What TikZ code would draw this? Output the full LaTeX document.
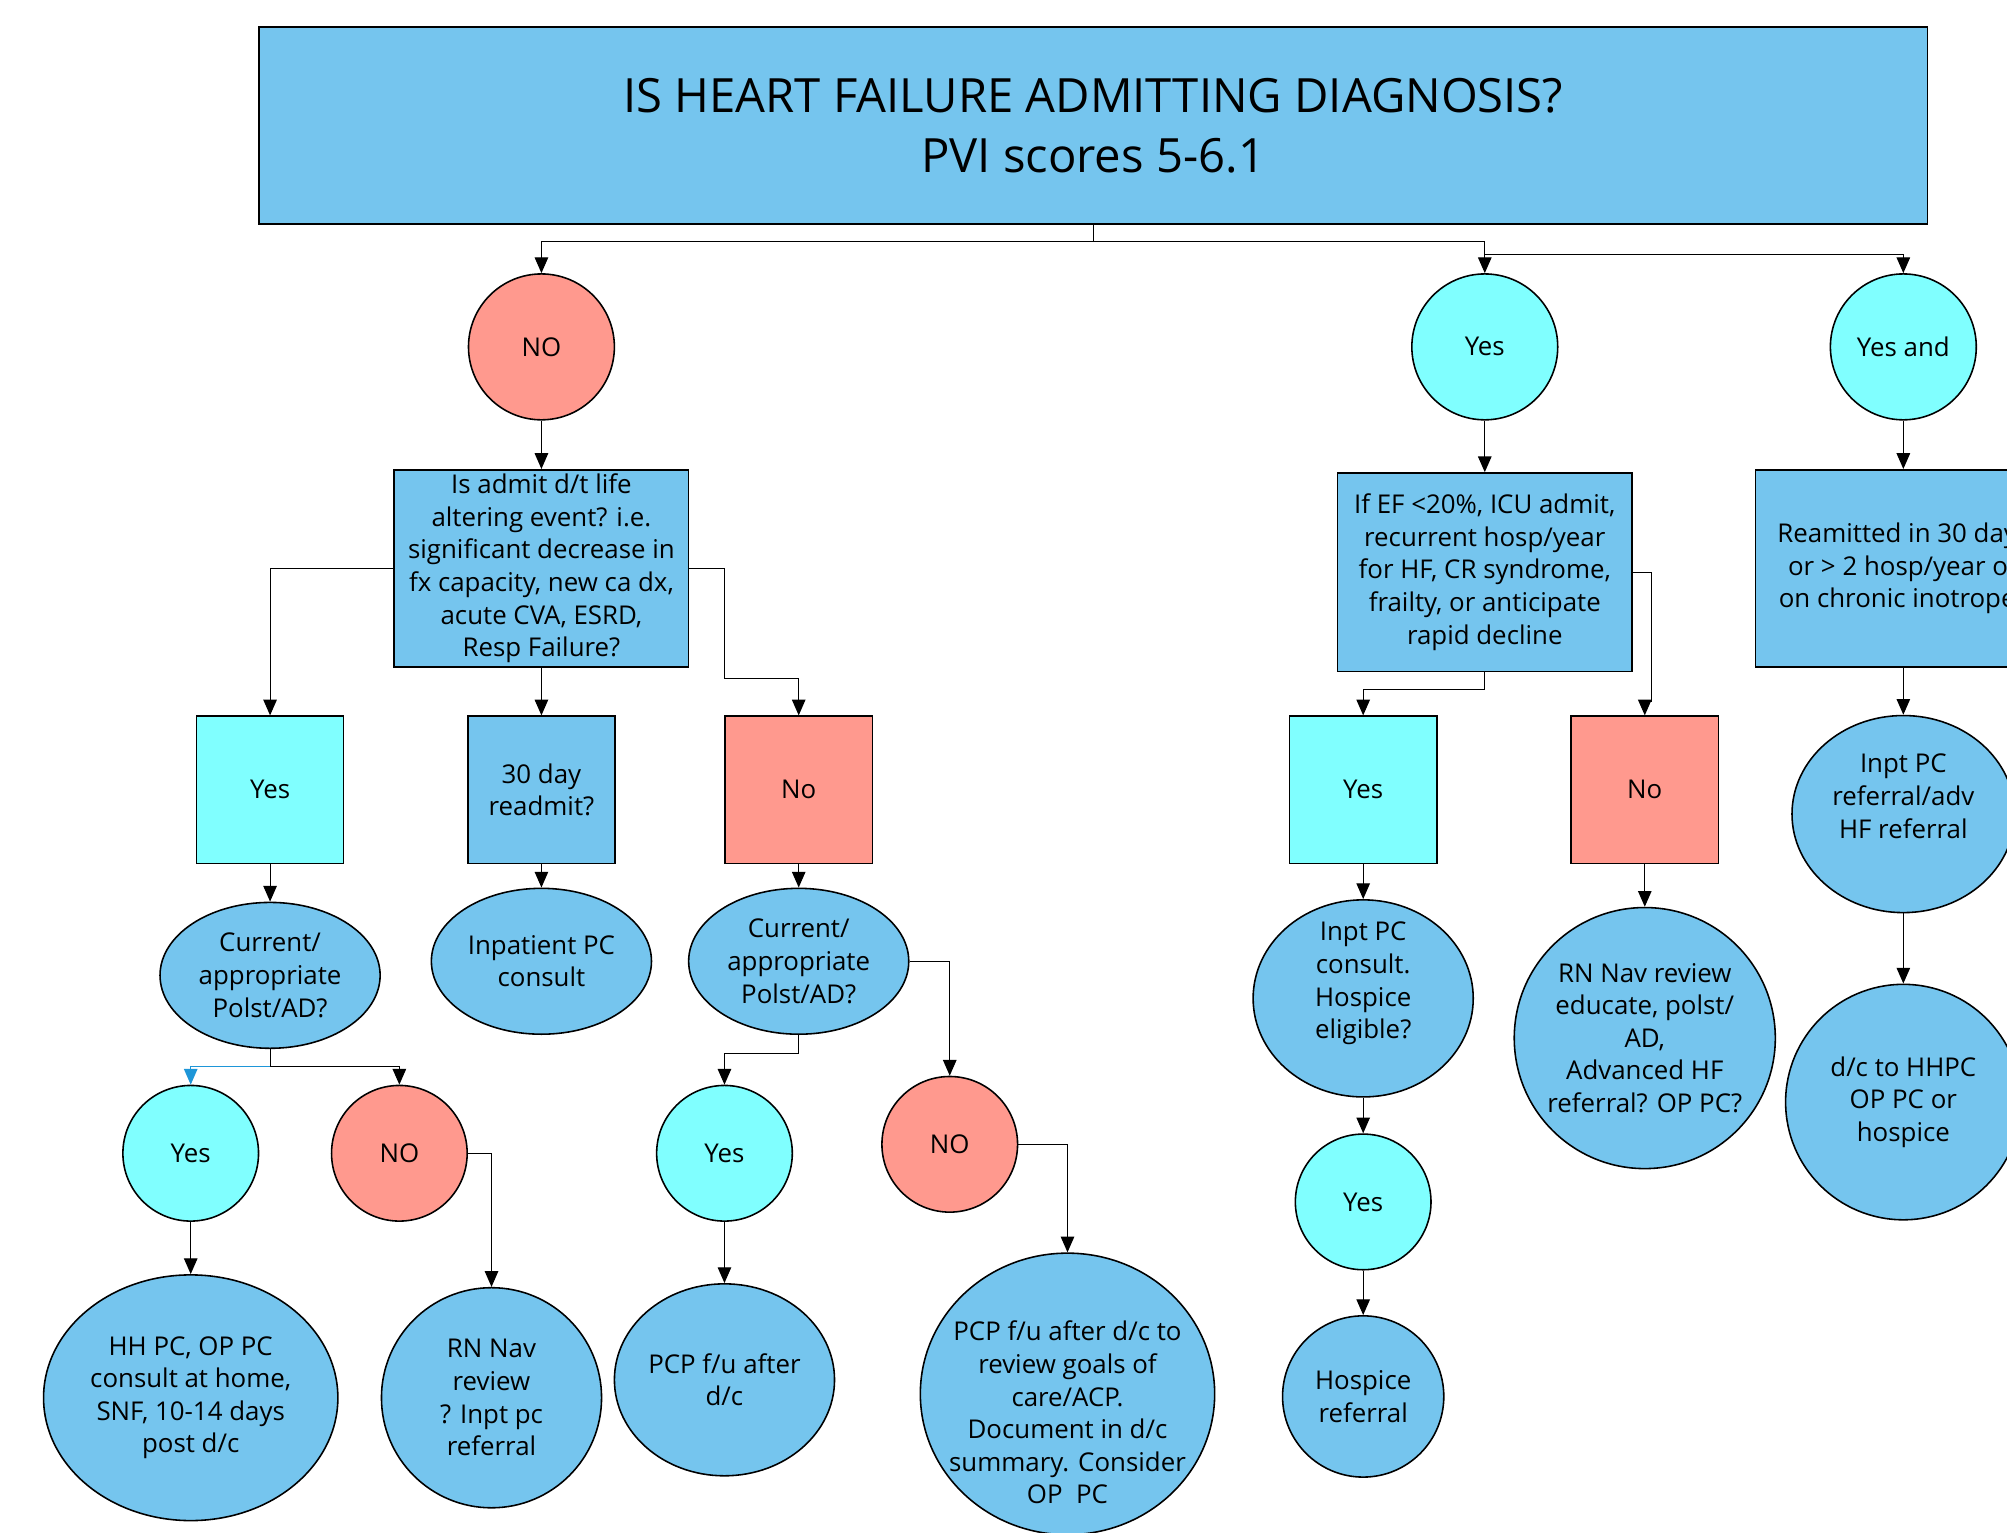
\documentclass[tikz,border=0pt]{standalone}
\usepackage{fontspec}
\setmainfont{Open Sans}
\usetikzlibrary{arrows.meta,shapes.geometric}

\definecolor{hfblue}{HTML}{75C5EE}
\definecolor{hfcyan}{HTML}{80FFFF}
\definecolor{hfred}{HTML}{FF998E}
\definecolor{hfline}{HTML}{1E96D8}

\begin{document}
\begin{tikzpicture}[x=0.02cm, y=-0.02cm,
	every node/.style={draw, line width=0.7pt, align=center, inner sep=0pt,
		font=\fontsize{11.5}{14.5}\selectfont},
	arr/.style={-{Triangle[length=7pt,width=6pt]}, line width=0.5pt},
	rnd/.style 2 args={ellipse, inner xsep=-14pt, inner ysep=-8pt, minimum width=#1, minimum height=#2},
	sq/.style={rectangle, minimum width=2.3cm, minimum height=2.3cm}]
			\useasboundingbox (0,0) rectangle (1568,1197);
			\clip (0,0) rectangle (1568,1197);
			
			% TOP QUESTION
			\node[rectangle, fill=hfblue, minimum width=26.08cm, minimum height=3.08cm,
				font=\fontsize{21}{26.5}\selectfont] (title) at (854,98) {IS HEART FAILURE ADMITTING DIAGNOSIS?\\PVI scores 5-6.1};
			\node[rnd={2.28cm}{2.28cm}, fill=hfred] (no1) at (423,271) {NO};
			\node[rnd={2.28cm}{2.28cm}, fill=hfcyan] (yes1) at (1160,271) {Yes};
			\node[rnd={2.28cm}{2.28cm}, fill=hfcyan] (yesand) at (1487,271) {Yes and};
			
			% NO BRANCH
			\node[rectangle, fill=hfblue, minimum width=4.6cm, minimum height=3.08cm] (q1) at (423,444) {Is admit d/t life\\altering event? i.e.\\significant decrease in\\fx capacity, new ca dx,\\acute CVA, ESRD,\\Resp Failure?};
			\node[sq, fill=hfcyan] (yesA) at (211,617) {Yes};
			\node[sq, fill=hfblue] (ra) at (423,617) {30 day\\readmit?};
			\node[sq, fill=hfred] (noA) at (624,617) {No};
			\node[rnd={3.44cm}{2.28cm}, fill=hfblue] (polA) at (211,762) {Current/\\appropriate\\Polst/AD?};
			\node[rnd={3.44cm}{2.28cm}, fill=hfblue] (inpc) at (423,751) {Inpatient PC\\consult};
			\node[rnd={3.44cm}{2.28cm}, fill=hfblue] (polB) at (624,751) {Current/\\appropriate\\Polst/AD?};
			\node[rnd={2.12cm}{2.12cm}, fill=hfcyan] (yesB) at (149,901) {Yes};
			\node[rnd={2.12cm}{2.12cm}, fill=hfred] (noB) at (312,901) {NO};
			\node[rnd={2.12cm}{2.12cm}, fill=hfcyan] (yesC) at (566,901) {Yes};
			\node[rnd={2.12cm}{2.12cm}, fill=hfred] (noC) at (742,894) {NO};
			\node[rnd={4.6cm}{3.84cm}, fill=hfblue] (hh) at (149,1092) {HH PC, OP PC\\consult at home,\\SNF, 10-14 days\\post d/c};
			\node[rnd={3.44cm}{3.44cm}, fill=hfblue] (rn1) at (384,1092) {RN Nav\\review\\? Inpt pc\\referral};
			\node[rnd={3.44cm}{3.0cm}, fill=hfblue] (pcp1) at (566,1078) {PCP f/u after\\d/c};
			\node[rnd={4.6cm}{4.4cm}, fill=hfblue, text height=98pt] (pcp2) at (834,1089) {PCP f/u after d/c to\\review goals of\\care/ACP.\\Document in d/c\\summary. Consider\\OP\ \ PC};
			
			% YES BRANCH
			\node[rectangle, fill=hfblue, minimum width=4.6cm, minimum height=3.1cm] (q2) at (1160,447) {If EF <20\%, ICU admit,\\recurrent hosp/year\\for HF, CR syndrome,\\frailty, or anticipate\\rapid decline};
			\node[sq, fill=hfcyan] (yesD) at (1065,617) {Yes};
			\node[sq, fill=hfred] (noD) at (1285,617) {No};
			\node[rnd={3.44cm}{3.08cm}, fill=hfblue, text depth=0.56cm] (ipc) at (1065,780) {Inpt PC\\consult.\\Hospice\\eligible?};
			\node[rnd={2.12cm}{2.12cm}, fill=hfcyan] (yesE) at (1065,939) {Yes};
			\node[rnd={2.52cm}{2.52cm}, fill=hfblue] (hosp) at (1065,1091) {Hospice\\referral};
			\node[rnd={4.08cm}{4.08cm}, fill=hfblue] (rn2) at (1285,811) {RN Nav review\\educate, polst/\\AD,\\Advanced HF\\referral? OP PC?};
			
			% YES AND BRANCH
			\node[rectangle, fill=hfblue, minimum width=4.62cm, minimum height=3.08cm] (q3) at (1487,444) {Reamitted in 30 days\\or > 2 hosp/year or\\on chronic inotropes};
			\node[rnd={3.48cm}{3.08cm}, fill=hfblue, text depth=0.56cm] (ipr) at (1487,636) {Inpt PC\\referral/adv\\HF referral};
			\node[rnd={3.68cm}{3.68cm}, fill=hfblue] (dch) at (1487,861) {d/c to HHPC\\OP PC or\\hospice};
			
			% DRAW CONNECTORS
			\coordinate (s1) at (854,189);
			\coordinate (s2) at (1160,199);
			\draw[line width=0.5pt] (title) -- (s1);
			\draw[arr] (s1) -| (no1); \draw[arr] (s1) -| (yes1);
			\draw[arr] (s2) -| (yesand);
			
			\draw[arr] (no1) -- (q1);
			\draw[arr] (q1.west) -| (yesA);
			\draw[arr] (q1) -- (ra);
			\coordinate (k1) at (566,530);
			\draw[arr] (q1.east) -| (k1) -| (noA);
			\draw[arr] (yesA) -- (polA); \draw[arr] (ra) -- (inpc); \draw[arr] (noA) -- (polB);
			\coordinate (k2) at (211,833);
			\draw[line width=0.5pt] (polA) -- (k2);
			\draw[arr] (k2) -| (noB);
			\draw[arr, draw=hfline] (k2) -| (yesB);
			\draw[arr] (yesB) -- (hh);
			\draw[arr] (noB.east) -| (rn1);
			\coordinate (k3) at (624,823);
			\draw[arr] (polB) -- (k3) -| (yesC);
			\draw[arr] (polB.east) -| (noC);
			\draw[arr] (yesC) -- (pcp1);
			\draw[arr] (noC.east) -| (pcp2);
			
			\draw[arr] (yes1) -- (q2);
			\coordinate (k4) at (1160,539);
			\draw[arr] (q2) -- (k4) -| (yesD);
			\coordinate (k5) at (1290,548);
			\draw[arr] (q2.east) -| (k5) -| (noD);
			\draw[arr] (yesD) -- (ipc); \draw[arr] (ipc) -- (yesE); \draw[arr] (yesE) -- (hosp);
			\draw[arr] (noD) -- (rn2);
			
			\draw[arr] (yesand) -- (q3); \draw[arr] (q3) -- (ipr); \draw[arr] (ipr) -- (dch);
		\end{tikzpicture}
\end{document}
